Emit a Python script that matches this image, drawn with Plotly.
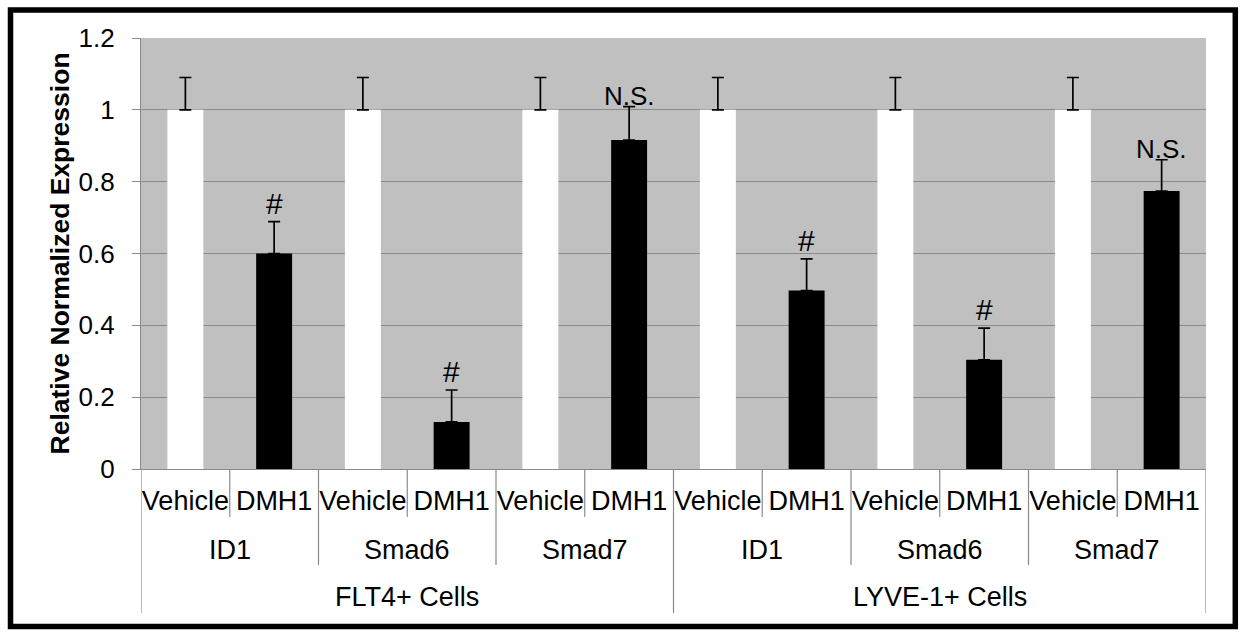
import plotly.graph_objects as go

# ---- data ----
cells = ["FLT4+ Cells", "LYVE-1+ Cells"]
genes = ["ID1", "Smad6", "Smad7"]
treatments = ["Vehicle", "DMH1"]

vehicle_values = [1.0, 1.0, 1.0, 1.0, 1.0, 1.0]
vehicle_err = [0.09, 0.09, 0.09, 0.09, 0.09, 0.09]
dmh1_values = [0.60, 0.131, 0.916, 0.497, 0.304, 0.774]
dmh1_err = [0.089, 0.089, 0.093, 0.088, 0.088, 0.087]
dmh1_labels = ["#", "#", "N.S.", "#", "#", "N.S."]

y_ticks = [0, 0.2, 0.4, 0.6, 0.8, 1.0, 1.2]

# ---- layout geometry (pixels) ----
W, H = 1240, 634
L, R, T, B = 141, 1206, 38, 469
PW, PH = R - L, B - T
FONT = "Liberation Sans, Arial, sans-serif"
GRAY = "#8a8a8a"


def pxx(px):
    return (px - L) / PW


def pxy(py):
    return (B - py) / PH


n_groups = len(cells) * len(genes)
veh_x = [2 * i for i in range(n_groups)]
dmh_x = [2 * i + 1 for i in range(n_groups)]
bar_w = 0.405

fig = go.Figure()
fig.add_trace(go.Bar(
    x=veh_x, y=vehicle_values, width=bar_w, name="Vehicle",
    marker=dict(color="white", line=dict(width=0)),
    error_y=dict(type="data", symmetric=False, array=vehicle_err,
                 arrayminus=[0] * n_groups, color="black", thickness=1.7, width=6),
))
fig.add_trace(go.Bar(
    x=dmh_x, y=dmh1_values, width=bar_w, name="DMH1",
    marker=dict(color="black", line=dict(width=0)),
    error_y=dict(type="data", symmetric=False, array=dmh1_err,
                 arrayminus=[0] * n_groups, color="black", thickness=1.7, width=6),
))

annotations = []
# significance labels
for x, v, e, lab in zip(dmh_x, dmh1_values, dmh1_err, dmh1_labels):
    is_ns = lab == "N.S."
    annotations.append(dict(
        x=x, y=v + e, xref="x", yref="y", text=lab, showarrow=False,
        xanchor="center", yanchor="bottom", yshift=(-6 if is_ns else 0),
        font=dict(family=FONT, size=(26 if is_ns else 30), color="black"),
    ))

# gene level labels
for ci, cell in enumerate(cells):
    for gi, gene in enumerate(genes):
        idx = ci * len(genes) + gi
        annotations.append(dict(
            x=2 * idx + 0.5, y=pxy(550), xref="x", yref="paper", text=gene,
            showarrow=False, xanchor="center", yanchor="middle",
            font=dict(family=FONT, size=27, color="black"),
        ))
    annotations.append(dict(
        x=(ci * 2 * len(genes)) + len(genes) - 0.5, y=pxy(597), xref="x", yref="paper",
        text=cell, showarrow=False, xanchor="center", yanchor="middle",
        font=dict(family=FONT, size=27, color="black"),
    ))

# y axis title
annotations.append(dict(
    x=pxx(59), y=0.5, xref="paper", yref="paper", text="<b>Relative Normalized Expression</b>",
    textangle=-90, showarrow=False, xanchor="center", yanchor="middle",
    font=dict(family=FONT, size=26.5, color="black"),
))

shapes = []
# separator lines of the category axis
n_cat = 2 * n_groups
for k in range(n_cat + 1):
    bx = k - 0.5
    if k % (2 * len(genes)) == 0:
        bottom = 613
    elif k % 2 == 0:
        bottom = 565
    else:
        bottom = 517
    shapes.append(dict(type="line", xref="x", yref="paper", x0=bx, x1=bx,
                       y0=pxy(B), y1=pxy(bottom), line=dict(color=GRAY, width=1.2)))

# outer frame
shapes.append(dict(type="rect", xref="paper", yref="paper",
                   x0=pxx(10.5), x1=pxx(1235.3), y0=pxy(626.5), y1=pxy(10),
                   line=dict(color="black", width=5.5), fillcolor="rgba(0,0,0,0)",
                   layer="above"))

fig.update_layout(
    width=W, height=H, autosize=False,
    margin=dict(l=L, r=W - R, t=T, b=H - B, pad=0),
    paper_bgcolor="white", plot_bgcolor="#c0c0c0",
    barmode="overlay", showlegend=False,
    font=dict(family=FONT, size=26, color="black"),
    annotations=annotations, shapes=shapes,
)
fig.update_xaxes(
    range=[-0.5, n_cat - 0.5], tickmode="array",
    tickvals=list(range(n_cat)), ticktext=treatments * n_groups,
    ticks="", ticklabelstandoff=7, showgrid=False, zeroline=False,
    showline=True, linecolor=GRAY, linewidth=1.3,
    tickfont=dict(family=FONT, size=27, color="black"),
)
fig.update_yaxes(
    range=[0, 1.2], tickmode="array", tickvals=y_ticks,
    ticktext=["0", "0.2", "0.4", "0.6", "0.8", "1", "1.2"],
    ticks="outside", ticklen=8, tickwidth=1.3, tickcolor=GRAY,
    ticklabelstandoff=12,
    showgrid=True, gridcolor=GRAY, gridwidth=1.3, zeroline=False,
    showline=True, linecolor=GRAY, linewidth=1.3,
    tickfont=dict(family=FONT, size=26, color="black"),
)

fig.write_html("out.html", config={"displayModeBar": False},
               post_script="document.body.style.margin='0';")
